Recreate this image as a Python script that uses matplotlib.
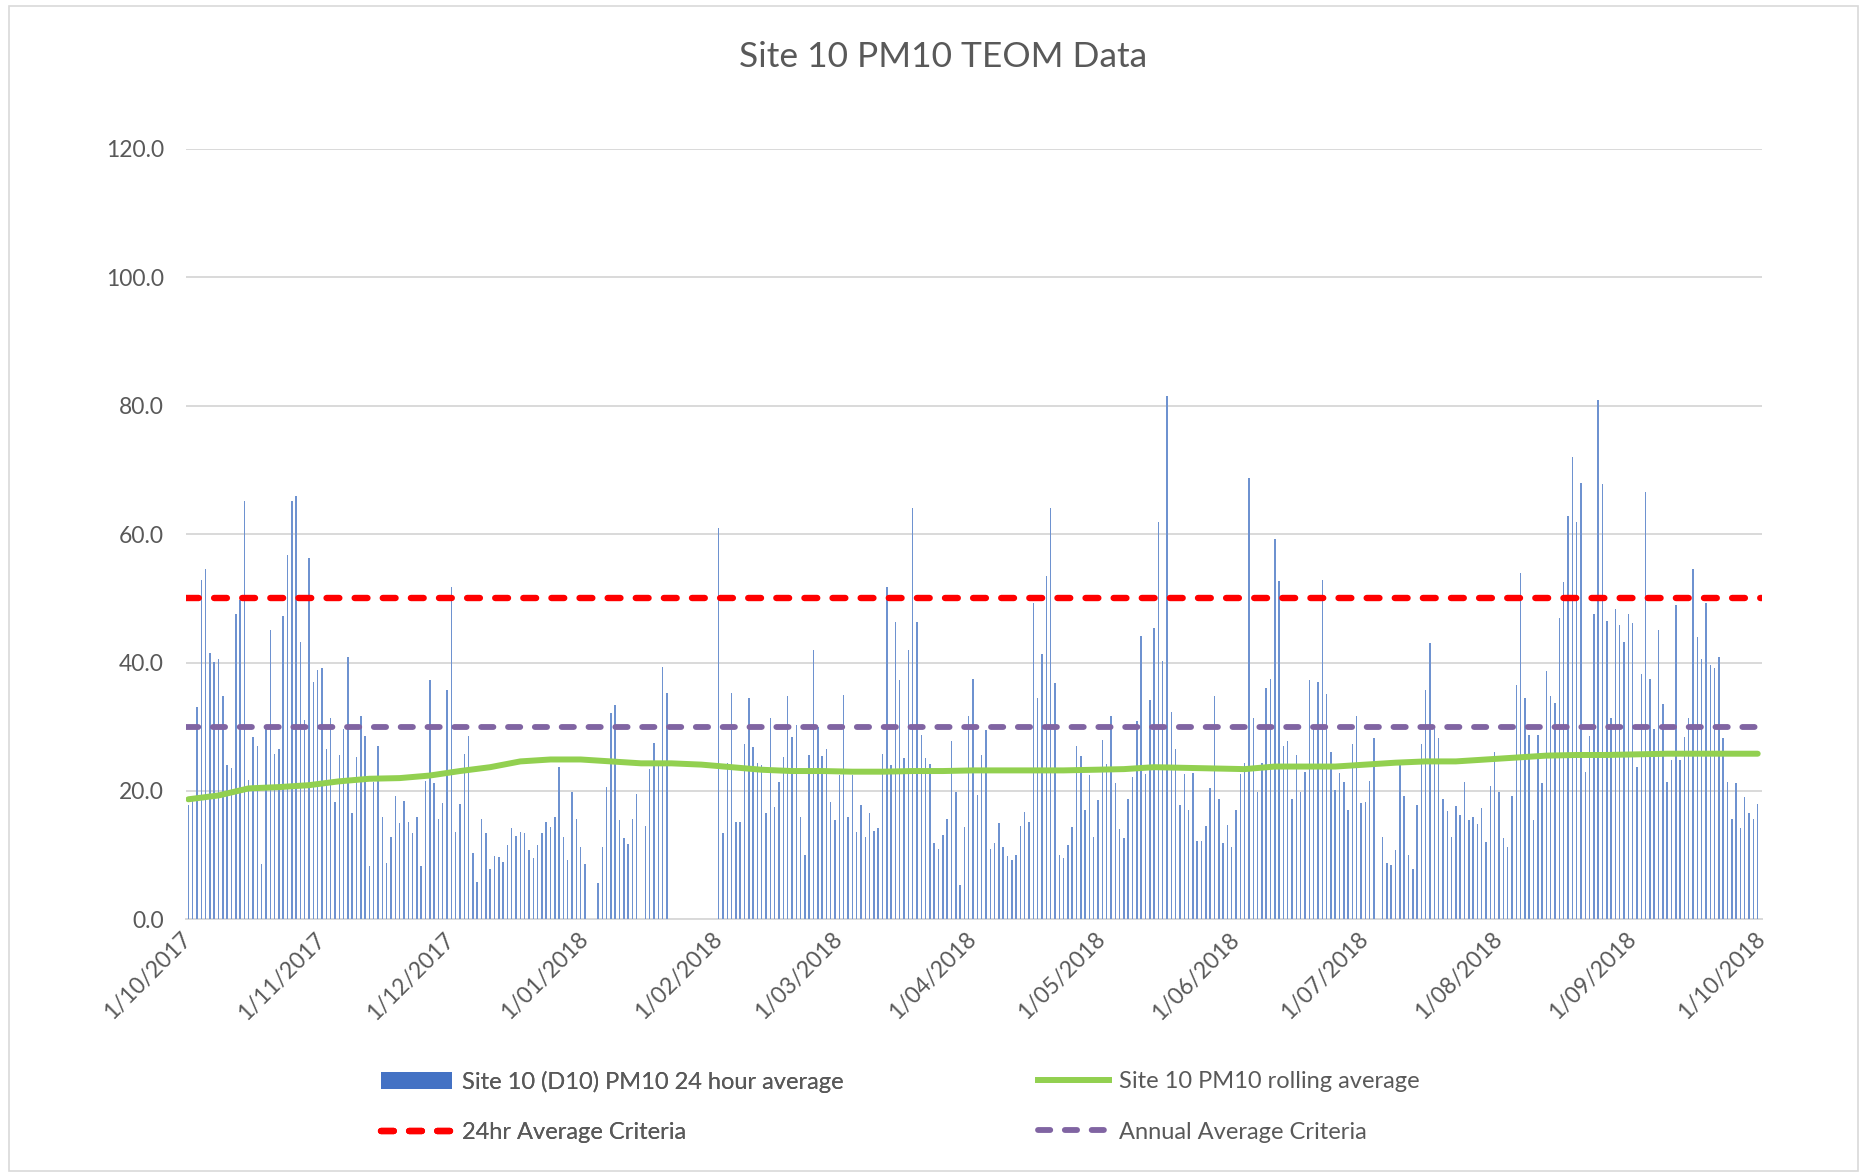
import numpy as np
import pandas as pd
import matplotlib
matplotlib.use("Agg")
import matplotlib.pyplot as plt
from matplotlib.patches import Patch, Rectangle
from matplotlib.lines import Line2D

plt.rcParams['font.family'] = ['Lato', 'DejaVu Sans']

nan = np.nan

# Daily PM10 24 hour averages (ug/m3), one list per month
oct17 = [17.8, 19.0, 33.1, 52.8, 54.5, 41.5, 40.1, 40.6, 34.8, 24.0, 23.5, 47.6, 49.7, 65.2, 21.7, 28.4,
         27.0, 8.7, 30.0, 45.1, 25.8, 26.6, 47.2, 56.7, 65.2, 65.9, 43.2, 31.1, 56.2, 37.0, 38.9]
nov17 = [39.1, 26.6, 31.3, 18.3, 25.6, 29.6, 40.9, 16.6, 25.3, 31.6, 28.5, 8.3, 21.4, 27.0, 16.0,
         8.8, 12.8, 19.2, 15.0, 18.5, 15.2, 13.4, 16.0, 8.3, 21.6, 37.3, 21.2, 15.6, 18.2, 35.7]
dec17 = [51.8, 13.6, 18.0, 25.7, 28.5, 10.3, 5.9, 15.7, 13.4, 7.9, 9.8, 9.7, 9.0, 11.6, 14.2, 13.0,
         13.6, 13.4, 10.8, 9.5, 11.6, 13.4, 15.2, 14.4, 16.0, 23.8, 12.8, 9.2, 19.9, 15.6, 11.3]
jan18 = [8.6, nan, nan, 5.6, 11.3, 20.6, 32.1, 33.4, 15.4, 12.6, 11.7, 15.7, 19.5, nan, 14.5, 23.4,
         27.4, 24.0, 39.3, 35.2, nan, nan, nan, nan, nan, nan, nan, nan, nan, nan, nan]
feb18 = [60.9, 13.4, 24.3, 35.3, 15.2, 15.2, 27.3, 34.4, 26.8, 24.3, 24.0, 16.6, 31.3, 17.5, 21.4,
         25.3, 34.8, 28.4, 30.3, 16.0, 10.0, 25.6, 41.9, 30.0, 25.4, 26.6, 18.3, 15.5]
mar18 = [22.5, 34.9, 16.0, 22.5, 13.6, 17.8, 12.8, 16.6, 13.8, 14.2, 25.8, 51.8, 24.0, 46.3, 37.2, 25.2,
         42.0, 64.0, 46.3, 28.7, 25.2, 24.2, 11.9, 10.9, 13.1, 15.7, 27.7, 19.9, 5.3, 14.4, 31.7]
apr18 = [37.4, 19.4, 25.6, 29.5, 11.0, 11.9, 15.0, 11.3, 9.9, 9.3, 10.0, 14.5, 16.8, 15.2, 49.2,
         34.5, 41.3, 53.5, 64.0, 36.8, 10.0, 9.5, 11.6, 14.4, 27.0, 25.4, 17.0, 22.5, 12.9, 18.6]
may18 = [27.9, 24.2, 31.7, 21.2, 14.0, 12.6, 18.8, 22.1, 30.9, 44.1, 22.6, 34.1, 45.3, 61.8, 40.3, 81.5,
         32.3, 26.5, 17.8, 22.7, 17.0, 22.8, 12.2, 12.2, 14.5, 20.4, 34.8, 18.8, 11.9, 14.7, 11.3]
jun18 = [17.0, 22.7, 24.3, 68.7, 31.3, 19.9, 24.3, 36.1, 37.4, 59.2, 52.7, 27.0, 27.8, 18.8, 25.6,
         19.9, 23.0, 37.2, 30.1, 36.9, 52.8, 35.1, 26.1, 20.2, 22.8, 21.4, 17.1, 27.3, 31.6, 18.2]
jul18 = [18.3, 21.6, 28.2, nan, 12.8, 8.8, 8.5, 10.8, 24.0, 19.2, 10.0, 7.9, 17.8, 27.3, 35.7, 43.1,
         29.6, 28.2, 18.7, 16.9, 12.9, 17.6, 16.2, 21.4, 15.5, 16.0, 14.8, 17.4, 12.1, 20.8, 26.1]
aug18 = [19.9, 12.6, 11.3, 19.2, 36.5, 53.9, 34.4, 28.7, 15.4, 28.7, 21.2, 38.7, 34.8, 33.7, 46.9, 52.6,
         62.8, 72.0, 61.9, 67.9, 23.0, 28.5, 47.5, 80.8, 67.8, 46.5, 31.3, 48.4, 45.8, 43.2, 47.5]
sep18 = [46.2, 23.8, 38.2, 66.6, 37.5, 29.6, 45.1, 33.5, 21.4, 24.8, 48.9, 24.8, 28.4, 31.3, 54.5,
         43.9, 40.6, 49.2, 39.6, 39.1, 40.9, 28.2, 21.4, 15.6, 21.2, 14.2, 19.1, 16.6, 15.7, 18.0]

# Rolling average, read weekly (day offset from 1/10/2017)
roll_day = [0, 7, 14, 21, 28, 35, 42, 49, 56, 63, 70, 77, 84, 91, 98, 105, 112, 119, 126, 133, 140,
            147, 154, 161, 168, 175, 182, 189, 196, 203, 210, 217, 224, 231, 238, 245, 252, 259, 266,
            273, 280, 287, 294, 301, 308, 315, 322, 329, 336, 343, 350, 357, 364]
roll_val = [18.7, 19.3, 20.4, 20.6, 20.9, 21.5, 21.9, 22.0, 22.4, 23.1, 23.7, 24.6, 24.9, 24.9, 24.6,
            24.3, 24.3, 24.1, 23.7, 23.3, 23.1, 23.1, 23.0, 23.0, 23.1, 23.1, 23.2, 23.2, 23.2, 23.2,
            23.3, 23.4, 23.7, 23.6, 23.5, 23.4, 23.8, 23.8, 23.8, 24.1, 24.4, 24.6, 24.6, 24.9, 25.2,
            25.5, 25.6, 25.6, 25.7, 25.8, 25.8, 25.8, 25.8]

criteria_24hr = 50.0
criteria_annual = 30.0

xtick_labels = ['1/10/2017', '1/11/2017', '1/12/2017', '1/01/2018', '1/02/2018', '1/03/2018',
                '1/04/2018', '1/05/2018', '1/06/2018', '1/07/2018', '1/08/2018', '1/09/2018',
                '1/10/2018']
yticks = [0, 20, 40, 60, 80, 100, 120]

title = 'Site 10 PM10 TEOM Data'
legend_labels = ['Site 10 (D10) PM10 24 hour average', '24hr Average Criteria',
                 'Site 10 PM10 rolling average', 'Annual Average Criteria']

# ---------------------------------------------------------------
daily = oct17 + nov17 + dec17 + jan18 + feb18 + mar18 + apr18 + may18 + jun18 + jul18 + aug18 + sep18
start = pd.Timestamp('2017-10-01')
dates = pd.date_range(start, periods=len(daily), freq='D')
roll_dates = [start + pd.Timedelta(days=d) for d in roll_day]
tick_dates = pd.to_datetime(xtick_labels, format='%d/%m/%Y')

W, H = 1865, 1176
fig = plt.figure(figsize=(W / 100, H / 100), dpi=100)
fig.patch.set_facecolor('white')

ax_left, ax_right = 186.2, 1762.0
ax_bottom, ax_top = 919.4, 148.7
ax = fig.add_axes([ax_left / W, 1 - ax_bottom / H, (ax_right - ax_left) / W, (ax_bottom - ax_top) / H])

BAR = '#4472C4'
BAR_DRAWN = '#6e92d0'
GREEN = '#92D050'
RED = '#FF0000'
PURPLE = '#8064A2'
TXT = '#595959'
GRID = '#d9d9d9'

ax.bar(dates, daily, width=0.34, color=BAR_DRAWN, linewidth=0, zorder=2)
ax.plot(roll_dates, roll_val, color=GREEN, lw=4.3, solid_capstyle='round', zorder=3)
ax.axhline(criteria_24hr, color=RED, lw=4.6, linestyle=(0, (2.0, 2.4)), dash_capstyle='round', zorder=4)
ax.axhline(criteria_annual, color=PURPLE, lw=4.2, linestyle=(0, (2.1, 2.5)), dash_capstyle='round', zorder=4)

ax.set_xlim(start - pd.Timedelta(days=0.5), start + pd.Timedelta(days=365))
ax.set_ylim(0, 120)
ax.set_yticks(yticks)
ax.set_yticklabels([f'{v:.1f}' for v in yticks])
ax.set_xticks(tick_dates)
ax.set_xticklabels(xtick_labels, rotation=45, ha='right', va='center', rotation_mode='anchor')
ax.tick_params(axis='both', length=0, colors=TXT, labelsize=16.5)
ax.tick_params(axis='y', pad=16)
ax.tick_params(axis='x', pad=12)
ax.yaxis.grid(True, color=GRID, lw=1.4)
ax.set_axisbelow(True)
for s in ['left', 'right', 'top']:
    ax.spines[s].set_visible(False)
ax.spines['bottom'].set_color(GRID)
ax.spines['bottom'].set_linewidth(1.4)
ax.spines['bottom'].set_zorder(1)

fig.text(943 / W, 1 - 57 / H, title, ha='center', va='center', fontsize=25.5, color=TXT)

h_bar = Patch(facecolor=BAR, edgecolor='none')
h_red = Line2D([], [], color=RED, lw=4.6, linestyle=(0, (2.0, 2.4)), dash_capstyle='round')
h_green = Line2D([], [], color=GREEN, lw=4.3)
h_purple = Line2D([], [], color=PURPLE, lw=4.2, linestyle=(0, (2.1, 2.5)), dash_capstyle='round')

common = dict(frameon=False, fontsize=17, labelcolor=TXT, handlelength=3.0, handletextpad=0.45,
              labelspacing=1.25, borderpad=0, borderaxespad=0, loc='center left')
leg1 = fig.legend([h_bar, h_red], legend_labels[:2], bbox_to_anchor=(381 / W, 1 - 1107 / H), **common)
fig.add_artist(leg1)
fig.legend([h_green, h_purple], legend_labels[2:], bbox_to_anchor=(1038 / W, 1 - 1107 / H), **common)

fig.add_artist(Rectangle((9.5 / W, 5 / H), (1858 - 9.5) / W, (1170 - 5) / H, transform=fig.transFigure,
                         fill=False, edgecolor=GRID, lw=1.2))

fig.savefig('out.png', dpi=100)
